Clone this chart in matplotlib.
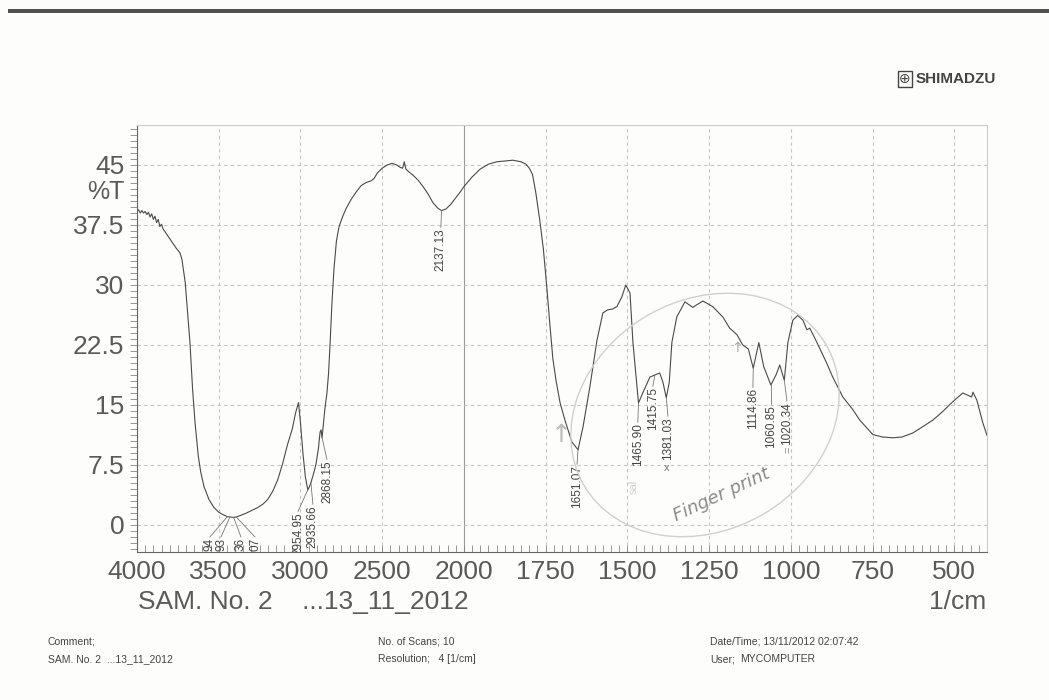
import numpy as np
import matplotlib.pyplot as plt
from matplotlib.patches import Ellipse, Rectangle

# spectrum (wavenumber in 1/cm, transmittance in %T)
wavenumber = [4000, 3990, 3980, 3970, 3960, 3950, 3940, 3930, 3920, 3910, 3900, 3890, 3880, 3870,
              3860, 3850, 3840, 3830, 3820, 3800, 3780, 3760, 3737, 3725, 3705, 3690, 3676, 3660,
              3645, 3625, 3610, 3590, 3560, 3530, 3500, 3470, 3447, 3432, 3409, 3393, 3360, 3330,
              3300, 3260, 3230, 3200, 3170, 3140, 3110, 3080, 3050, 3030, 3012, 3000, 2985, 2970,
              2955, 2945, 2936, 2920, 2905, 2890, 2880, 2874, 2868, 2858, 2850, 2838, 2828, 2818,
              2808, 2795, 2780, 2765, 2745, 2720, 2690, 2660, 2630, 2600, 2570, 2550, 2530, 2500,
              2470, 2440, 2410, 2390, 2375, 2365, 2355, 2340, 2310, 2280, 2250, 2220, 2190, 2160,
              2137, 2110, 2080, 2050, 2020, 2000, 1975, 1950, 1925, 1900, 1875, 1850, 1825, 1810,
              1800, 1790, 1780, 1768, 1757, 1746, 1738, 1728, 1718, 1706, 1691, 1670, 1651, 1636,
              1615, 1593, 1575, 1560, 1545, 1532, 1517, 1505, 1492, 1483, 1466, 1453, 1431, 1416,
              1401, 1391, 1381, 1372, 1364, 1349, 1324, 1300, 1285, 1269, 1239, 1208, 1187, 1165,
              1147, 1130, 1115, 1098, 1083, 1061, 1045, 1034, 1020, 1009, 994, 979, 963, 951,
              942, 920, 890, 872, 841, 810, 789, 749, 720, 688, 660, 627, 600, 566,
              535, 505, 474, 447, 443, 431, 413, 400]
transmittance = [39.2, 39.4, 39.0, 39.3, 39.0, 39.2, 38.8, 39.1, 38.5, 38.9, 38.2, 38.6, 37.8, 38.2,
                 37.3, 37.6, 37.0, 36.7, 36.4, 35.8, 35.2, 34.6, 34.0, 33.2, 30.3, 26.5, 22.8, 17.0,
                 12.8, 8.6, 6.6, 4.8, 3.2, 2.2, 1.6, 1.25, 1.05, 1.0, 0.95, 1.0, 1.25, 1.5,
                 1.8, 2.2, 2.6, 3.2, 4.2, 5.6, 7.6, 10.0, 12.0, 14.0, 15.3, 12.8, 9.0, 6.0,
                 4.4, 4.8, 5.3, 6.4, 7.6, 9.6, 11.6, 11.9, 10.9, 13.0, 14.6, 16.5, 19.0, 23.0,
                 27.5, 32.0, 35.5, 37.2, 38.4, 39.6, 40.7, 41.6, 42.4, 42.8, 43.0, 43.3, 44.0, 44.6,
                 45.0, 45.2, 45.0, 44.7, 44.6, 45.4, 44.5, 44.2, 43.7, 43.1, 42.3, 41.4, 40.3, 39.6,
                 39.3, 39.5, 40.1, 40.9, 41.7, 42.3, 43.5, 44.5, 45.1, 45.4, 45.5, 45.6, 45.4, 45.1,
                 44.6, 43.8, 41.5, 38.1, 34.5, 29.5, 25.5, 20.8, 18.0, 15.3, 13.1, 10.4, 9.4, 12.2,
                 17.2, 23.1, 26.5, 26.9, 27.0, 27.3, 28.5, 30.0, 29.0, 22.8, 15.25, 16.5, 18.5, 18.75,
                 19.0, 17.8, 15.9, 17.8, 22.8, 26.0, 27.9, 27.2, 27.6, 28.0, 27.3, 26.0, 24.6, 23.8,
                 22.5, 22.0, 19.6, 22.8, 19.8, 17.5, 18.8, 20.0, 18.1, 22.8, 25.6, 26.2, 25.6, 24.4,
                 24.6, 22.8, 20.2, 18.5, 16.0, 14.4, 13.1, 11.3, 11.0, 10.9, 11.0, 11.5, 12.2, 13.1,
                 14.2, 15.4, 16.5, 16.0, 16.6, 15.6, 12.8, 11.2]

# peak labels
peak_text = ['94', '93', '36', '07', '2954.95', '2935.66', '2868.15', '2137.13',
             '1651.07', '1465.90', '1415.75', '1381.03', '1114.86', '1060.85', '1020.34']
peak_wn = [3447, 3432, 3409, 3393, 2955, 2936, 2868, 2137, 1651, 1466, 1416, 1381, 1115, 1061, 1020]
peak_t = [1.05, 1.0, 0.95, 1.0, 4.4, 5.3, 10.9, 39.3, 9.4, 15.25, 18.75, 15.9, 19.6, 17.5, 18.1]
label_wn = [3554, 3486, 3364, 3278, 3015, 2924, 2838, 2141, 1654, 1468, 1422, 1376, 1116, 1061, 1012]
label_top = [-1.6, -1.6, -1.6, -1.6, 1.6, 2.5, 8.1, 37.1, 7.5, 12.75, 17.25, 13.5, 17.1, 15.0, 15.4]

x_ticks = [4000, 3500, 3000, 2500, 2000, 1750, 1500, 1250, 1000, 750, 500]
y_ticks = [0, 7.5, 15, 22.5, 30, 37.5, 45]
y_ticklabels = ['0', '7.5', '15', '22.5', '30', '37.5', '45']


# scale changes at 2000 1/cm: below it twice as wide
def fwd(x):
    x = np.asarray(x, dtype=float)
    return np.where(x >= 2000, x, 2000 - (2000 - x) * 2)


def inv(y):
    y = np.asarray(y, dtype=float)
    return np.where(y >= 2000, y, 2000 - (2000 - y) / 2)


plt.rcParams['font.family'] = 'Liberation Sans'
W, H = 1049, 700
fig = plt.figure(figsize=(W / 100, H / 100), dpi=100, facecolor='#fdfdfc')
ax = fig.add_axes([137 / W, 1 - 552 / H, (987 - 137) / W, (552 - 125) / H])
ax.set_facecolor('none')
ax.set_xscale('function', functions=(fwd, inv))
ax.set_xlim(4000, 400)
ax.set_ylim(-3.375, 50)

txt = '#5a5a5a'
ax.plot(wavenumber, transmittance, color='#4a4a4a', lw=0.8)

# Achsen
ax.set_xticks(x_ticks)
ax.set_xticklabels([str(t) for t in x_ticks])
ax.set_xticks(list(range(2050, 4000, 50)) + list(range(425, 2000, 25)), minor=True)
ax.set_yticks(y_ticks)
ax.set_yticklabels(y_ticklabels)
ax.set_yticks(np.arange(-3, 50, 0.75), minor=True)
ax.tick_params(axis='x', which='both', direction='in', length=5, width=0.6, colors='#888',
               labelcolor=txt, labelsize=19, pad=6)
ax.tick_params(axis='y', which='both', direction='out', length=5, width=0.6, colors='#888',
               labelcolor=txt, labelsize=19, pad=4)
ax.grid(True, which='major', color='#c4c4c4', lw=0.8, ls=(0, (3, 3)))
ax.get_xgridlines()[4].set_linestyle('-')
ax.get_xgridlines()[4].set_color('#9a9a9a')
for s in ['left', 'bottom']:
    ax.spines[s].set_color('#666')
for s in ['top', 'right']:
    ax.spines[s].set_color('#cccccc')

# Peak-Beschriftung
for s, pw, pt, lw_, lt in zip(peak_text, peak_wn, peak_t, label_wn, label_top):
    ax.plot([pw, lw_], [pt, lt + 0.1], color='#777', lw=0.6)
    ax.text(lw_, lt, s, rotation=90, ha='center', va='top', fontsize=8.5,
            color='#444', clip_on=True)

fig.text(124 / W, 1 - 192 / H, '%T', ha='right', va='center', fontsize=18, color=txt)
fig.text(138 / W, 1 - 602 / H, 'SAM. No. 2    ...13_11_2012', ha='left', va='center',
         fontsize=19, color=txt)
fig.text(986 / W, 1 - 602 / H, '1/cm', ha='right', va='center', fontsize=19, color=txt)

# Handnotizen
fig.add_artist(Ellipse((705 / 100, (H - 415) / 100), 2.8, 2.3, angle=30,
                       transform=fig.dpi_scale_trans, fill=False, ec='#d0d0d0', lw=1.0))
fig.text(722 / W, 1 - 495 / H, 'Finger print', rotation=25, ha='center', va='center',
         fontsize=13, style='italic', color='#8a8a8a', family='DejaVu Sans')
fig.text(634 / W, 1 - 487 / H, 'sal', rotation=90, ha='center', va='center',
         fontsize=8, color='#cfcfcf')
fig.text(667 / W, 1 - 468 / H, 'x', ha='center', va='center', fontsize=8, color='#777')
fig.text(789 / W, 1 - 450 / H, '=', rotation=90, ha='center', va='center', fontsize=8, color='#888')
fig.text(737 / W, 1 - 348 / H, '↑', ha='center', va='center', fontsize=10, color='#aaa',
         family='DejaVu Sans')
fig.text(561 / W, 1 - 435 / H, '↑', ha='center', va='center', fontsize=18, color='#bbb',
         family='DejaVu Sans')

# Logo und Kopf
fig.add_artist(Rectangle((8 / W, 1 - 13 / H), 1, 4 / H, transform=fig.transFigure,
                         color='#505050', lw=0))
fig.text(905 / W, 1 - 79 / H, '⊕', ha='center', va='center', fontsize=10, color='#444',
         family='DejaVu Sans',
         bbox=dict(boxstyle='square,pad=0.1', fc='none', ec='#444', lw=1))
fig.text(916 / W, 1 - 79 / H, 'SHIMADZU', ha='left', va='center', fontsize=11,
         weight='bold', color='#444')

# Fusszeile
small = dict(fontsize=7.5, color='#444', va='baseline', ha='left')
fig.text(48 / W, 1 - 645 / H, 'Comment;', **small)
fig.text(48 / W, 1 - 662 / H, 'SAM. No. 2  ...13_11_2012', **small)
fig.text(378 / W, 1 - 645 / H, 'No. of Scans; 10', **small)
fig.text(378 / W, 1 - 662 / H, 'Resolution;   4 [1/cm]', **small)
fig.text(710 / W, 1 - 645 / H, 'Date/Time; 13/11/2012 02:07:42', **small)
fig.text(710 / W, 1 - 662 / H, 'User;', **small)
fig.text(740 / W, 1 - 662 / H, 'MYCOMPUTER', **small)

fig.savefig('out.png', dpi=100, facecolor=fig.get_facecolor())
